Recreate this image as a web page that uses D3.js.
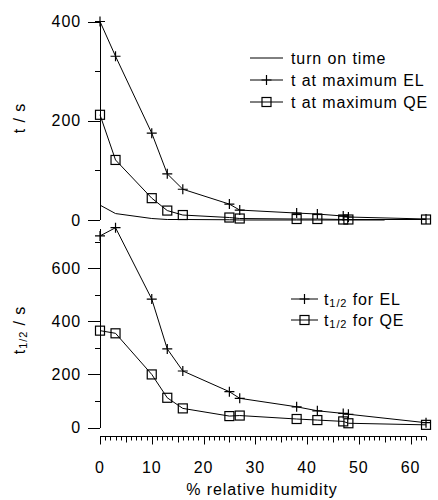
<!DOCTYPE html>
<html>
<head>
<meta charset="utf-8">
<script src="https://cdn.jsdelivr.net/npm/d3@7"></script>
<style>
  body { margin: 0; background: #fff; }
  svg { display: block; }
  text { font-family: "Liberation Sans", Arial, sans-serif; font-size: 16px; letter-spacing: 0.9px; fill: #000; }
</style>
</head>
<body>
<svg id="chart" width="438" height="500"></svg>
<script>
// ---- data ----
const rh = [0, 3, 10, 13, 16, 25, 27, 38, 42, 47, 48, 63];
const turnOnRH = [0, 3, 10, 13, 16, 25, 27, 38, 42, 47, 48, 55];
const turnOnTime = [30, 13, 3, 1, 1, 0.5, 0, 0, 0, 0, 0, 0];
const tMaxEL = [400, 330, 175, 93, 62, 32, 20, 14, 12, 8, 6, 2];
const tMaxQE = [212, 121, 44, 19, 10, 5, 3, 2, 2, 1, 1, 1];
const tHalfEL = [722, 753, 484, 296, 213, 135, 110, 78, 63, 53, 50, 18];
const tHalfQE = [365, 355, 200, 112, 72, 43, 45, 32, 28, 23, 16, 10];
const xTicks = [0, 10, 20, 30, 40, 50, 60];
const topTicks = [0, 200, 400];
const bottomTicks = [0, 200, 400, 600];
const topLegend = ["turn on time", "t at maximum EL", "t at maximum QE"];

const svg = d3.select("#chart");

const x = d3.scaleLinear().domain([0, 60]).range([100, 410.5]);
const yTop = d3.scaleLinear().domain([0, 400]).range([220, 21.5]);
const yBot = d3.scaleLinear().domain([0, 600]).range([427.5, 268.3]);

function drawYAxis(scale, major, minorMax, topVal) {
  const g = svg.append("g");
  g.append("line").attr("x1", 100).attr("x2", 100)
    .attr("y1", scale(0)).attr("y2", scale(topVal))
    .attr("stroke", "#000").attr("stroke-width", 1).attr("shape-rendering", "crispEdges");
  const minors = d3.range(100, minorMax + 1, 200);
  g.selectAll(".mi").data(minors).join("line")
    .attr("x1", 95).attr("x2", 100)
    .attr("y1", d => Math.round(scale(d)) + 0.5).attr("y2", d => Math.round(scale(d)) + 0.5)
    .attr("stroke", "#000");
  g.selectAll(".ma").data(major).join("line")
    .attr("x1", 88).attr("x2", 100)
    .attr("y1", d => Math.round(scale(d)) + 0.5).attr("y2", d => Math.round(scale(d)) + 0.5)
    .attr("stroke", "#000");
  g.selectAll(".lb").data(major).join("text")
    .attr("x", 81).attr("y", d => scale(d))
    .attr("text-anchor", "end").attr("dominant-baseline", "central")
    .text(d => d);
}
drawYAxis(yTop, topTicks, 300, 400);
drawYAxis(yBot, bottomTicks, 700, 750);

// x axis
const xAxisY = 436.5;
const xg = svg.append("g");
xg.append("line").attr("x1", x(0)).attr("x2", x(63)).attr("y1", xAxisY).attr("y2", xAxisY).attr("stroke", "#000");
xg.selectAll(".xt").data(d3.range(0, 64, 1)).join("line")
  .attr("x1", d => Math.round(x(d)) + 0.5).attr("x2", d => Math.round(x(d)) + 0.5)
  .attr("y1", xAxisY).attr("y2", d => xAxisY + (d % 10 === 0 ? 8 : (d % 5 === 0 ? 6 : 4)))
  .attr("stroke", "#000");
xg.selectAll(".xl").data(xTicks).join("text")
  .attr("x", d => x(d)).attr("y", 467)
  .attr("text-anchor", "middle").attr("dominant-baseline", "central")
  .text(d => d);
svg.append("text").attr("x", 262).attr("y", 489)
  .attr("text-anchor", "middle").attr("dominant-baseline", "central")
  .text("% relative humidity");

// y titles
svg.append("text").attr("transform", "translate(19,118) rotate(-90)")
  .attr("text-anchor", "middle").attr("dominant-baseline", "central")
  .text("t / s");
const yt2 = svg.append("text").attr("transform", "translate(19,330) rotate(-90)")
  .attr("text-anchor", "middle").attr("dominant-baseline", "central");
yt2.append("tspan").text("t");
yt2.append("tspan").attr("font-size", "11px").attr("dy", 4).text("1/2");
yt2.append("tspan").attr("dy", -4).text(" / s");

// series
function drawSeries(xs, ys, yScale, marker) {
  const pts = xs.map((d, i) => [x(d), yScale(ys[i])]);
  svg.append("path").attr("d", d3.line()(pts))
    .attr("fill", "none").attr("stroke", "#000").attr("stroke-width", 1);
  pts.forEach(p => drawMarker(p[0], p[1], marker));
}
function drawMarker(cx, cy, marker) {
  if (marker === "plus") {
    svg.append("path").attr("d", `M${cx - 5},${cy}H${cx + 5}M${cx},${cy - 5}V${cy + 5}`)
      .attr("stroke", "#000").attr("stroke-width", 1.2).attr("fill", "none");
  } else if (marker === "square") {
    svg.append("rect").attr("x", cx - 4.5).attr("y", cy - 4.5).attr("width", 9).attr("height", 9)
      .attr("stroke", "#000").attr("stroke-width", 1.2).attr("fill", "none");
  }
}
drawSeries(turnOnRH, turnOnTime, yTop, null);
drawSeries(rh, tMaxEL, yTop, "plus");
drawSeries(rh, tMaxQE, yTop, "square");
drawSeries(rh, tHalfEL, yBot, "plus");
drawSeries(rh, tHalfQE, yBot, "square");

// legends
const topMarkers = [null, "plus", "square"];
topLegend.forEach((label, i) => {
  const ly = 58 + i * 22;
  svg.append("line").attr("x1", 250).attr("x2", 283).attr("y1", ly).attr("y2", ly).attr("stroke", "#000");
  drawMarker(266.5, ly, topMarkers[i]);
  svg.append("text").attr("x", 291).attr("y", ly).attr("dominant-baseline", "central").text(label);
});
const botLegend = [["for EL", "plus"], ["for QE", "square"]];
botLegend.forEach((d, i) => {
  const ly = 299 + i * 21;
  svg.append("line").attr("x1", 291).attr("x2", 318).attr("y1", ly).attr("y2", ly).attr("stroke", "#000");
  drawMarker(304.5, ly, d[1]);
  const t = svg.append("text").attr("x", 324).attr("y", ly).attr("dominant-baseline", "central");
  t.append("tspan").text("t");
  t.append("tspan").attr("font-size", "11px").attr("dy", 4).text("1/2");
  t.append("tspan").attr("dy", -4).text(" " + d[0]);
});
</script>
</body>
</html>
